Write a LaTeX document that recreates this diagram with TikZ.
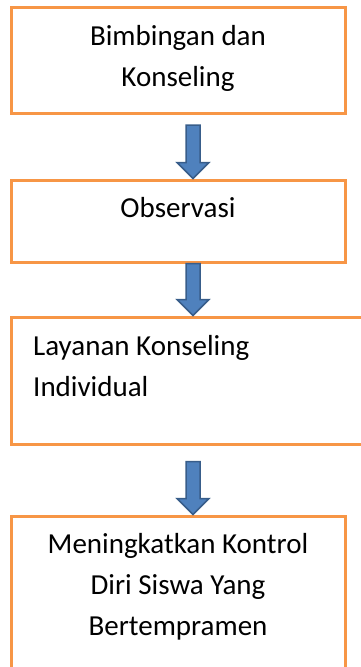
\documentclass[tikz,border=0pt]{standalone}
\usepackage{fontspec}
\setmainfont{Carlito}
\usetikzlibrary{positioning,calc}

\definecolor{boxorange}{HTML}{F79646}
\definecolor{arrowblue}{HTML}{4F81BD}
\definecolor{arrowline}{HTML}{385D8A}

% block arrow from the top of its shaft (#1) to its tip (#2)
\newcommand{\flowarrow}[2]{%
\draw[blk] ($(#1)+(-7,0)$) -- ($(#1)+(7,0)$) -- ($(#2)+(7,-16)$) -- ($(#2)+(16,-16)$)
  -- (#2) -- ($(#2)+(-16,-16)$) -- ($(#2)+(-7,-16)$) -- cycle;}

\begin{document}
\begin{tikzpicture}[x=1pt,y=-1pt]
\tikzstyle{box} = [draw=boxorange,line width=3pt,shape=rectangle,inner sep=0pt]
\tikzstyle{txt} = [inner sep=0pt,font=\fontsize{29}{41}\selectfont]
\tikzstyle{blk} = [fill=arrowblue,draw=arrowline,line width=1.5pt,line join=miter]
\useasboundingbox (0,0) rectangle (361,667);
\clip (0,0) rectangle (361,667);
\node[box,minimum width=334pt,minimum height=106pt] (bk) at (178,60) {};
\node[box,minimum width=334pt,minimum height=82pt] (obs) at (178,221) {};
\node[box,minimum width=400pt,minimum height=127pt] (lki) at (211,380.5) {};
\node[box,minimum width=334pt,minimum height=190pt] (kds) at (178,611) {};
\node[txt,align=center,anchor=base] (bktxt) at (178,86) {Bimbingan dan\\Konseling};
\node[txt,anchor=base] (obstxt) at (178,217) {Observasi};
\node[txt,align=left,anchor=base west] (lkitxt) at (33,396) {Layanan Konseling\\Individual};
\node[txt,align=center,anchor=base] (kdstxt) at (178,635) {Meningkatkan Kontrol\\Diri Siswa Yang\\Bertempramen};
\coordinate (a1) at (193,125);
\coordinate (t1) at (a1 |- obs.north);
\coordinate (a2) at (a1 |- obs.south);
\coordinate (t2) at (a1 |- lki.north);
\coordinate (a3) at ($(a1 |- lki.south)+(0,16)$);
\coordinate (t3) at (a1 |- kds.north);
\flowarrow{a1}{t1}
\flowarrow{a2}{t2}
\flowarrow{a3}{t3}
\end{tikzpicture}
\end{document}
